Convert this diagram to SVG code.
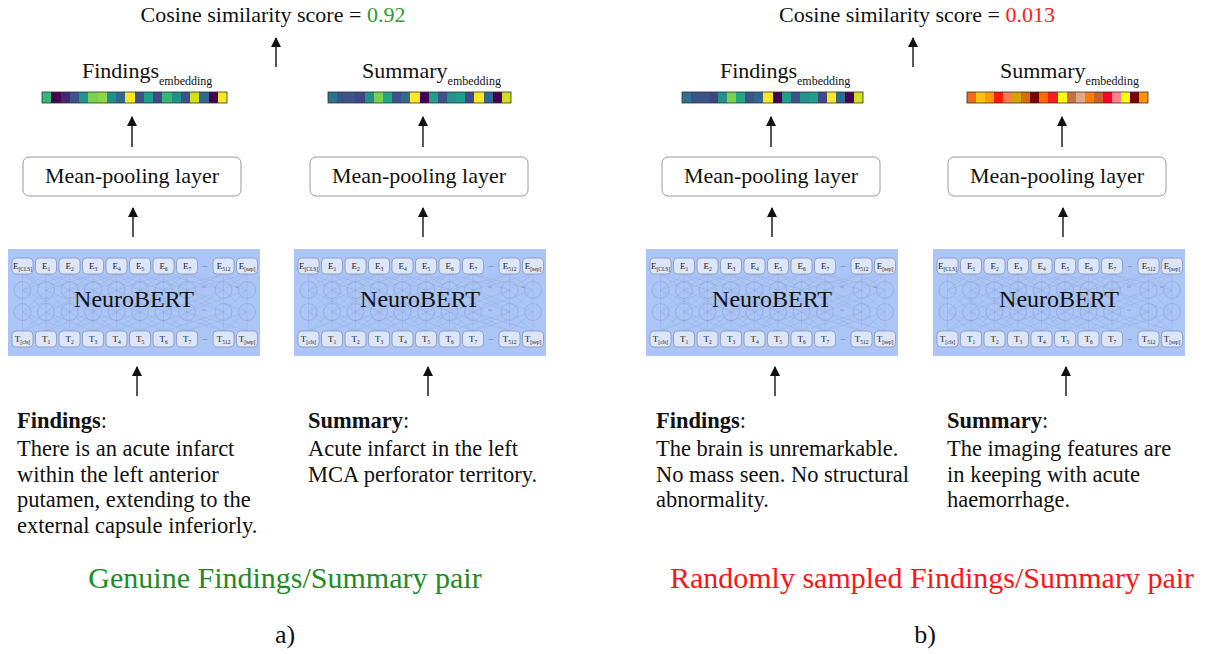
<svg xmlns="http://www.w3.org/2000/svg" xmlns:xlink="http://www.w3.org/1999/xlink" width="1211" height="654" viewBox="0 0 1211 654">
<style>
text{font-family:"Liberation Serif","Times New Roman",serif;fill:#111}
.title{font-size:22px;text-anchor:middle}
.emb{font-size:22px}
.embs{font-size:12px}
.pool{fill:#fff;stroke:#9a9a9a;stroke-width:1}
.pooltxt{font-size:22px;text-anchor:middle}
.bert{fill:#abc5f6}
.tokr{fill:#dde5f8;stroke:#8796ba;stroke-width:0.8}
.tk{font-size:9px;text-anchor:middle;fill:#222}
.sb{font-size:5.5px}
.dash{font-size:9px;text-anchor:middle;fill:#666}
.nb{font-size:24px;text-anchor:middle;fill:#111}
.net{fill:none;stroke:#8aa2d4;stroke-width:0.6;stroke-opacity:0.5}
.circ{fill:none;stroke:#93aadb;stroke-width:0.8}
.para{font-size:22.5px}
.cap{font-size:30px;text-anchor:middle}
.lab{font-size:26px;text-anchor:middle}
.arrow{stroke:#222;stroke-width:1.5;fill:none;marker-end:url(#ah)}
.bar{fill:none;stroke:#333;stroke-width:0.8}
</style>
<defs>
<marker id="ah" viewBox="0 0 10 10" refX="9" refY="5" markerWidth="10" markerHeight="11" markerUnits="userSpaceOnUse" orient="auto">
<path d="M0,0 L10,5 L0,10 z" fill="#111"/>
</marker>
<path id="band" d="M14.5 0L38 1M38 0L61.5 1M61.5 0L85 1M85 0L108.5 1M108.5 0L132 1M132 0L155.5 1M155.5 0L179 1M179 0L215.5 1M215.5 0L239 1M38 0L14.5 1M61.5 0L38 1M85 0L61.5 1M108.5 0L85 1M132 0L108.5 1M155.5 0L132 1M179 0L155.5 1M215.5 0L179 1M239 0L215.5 1M14.5 0L61.5 1M38 0L85 1M61.5 0L108.5 1M85 0L132 1M108.5 0L155.5 1M132 0L179 1M155.5 0L215.5 1M179 0L239 1M61.5 0L14.5 1M85 0L38 1M108.5 0L61.5 1M132 0L85 1M155.5 0L108.5 1M179 0L132 1M215.5 0L155.5 1M239 0L179 1M14.5 0V1M38 0V1M61.5 0V1M85 0V1M108.5 0V1M132 0V1M155.5 0V1M179 0V1M215.5 0V1M239 0V1" vector-effect="non-scaling-stroke"/>
<g id="net">
<g class="net">
<use href="#band" transform="translate(0,25) scale(1,16)"/>
<use href="#band" transform="translate(0,41) scale(1,22)"/>
<use href="#band" transform="translate(0,63) scale(1,19)"/>
</g>
<g class="circ">
<circle cx="14.5" cy="41" r="8.5"/><circle cx="38" cy="41" r="8.5"/><circle cx="61.5" cy="41" r="8.5"/><circle cx="85" cy="41" r="8.5"/><circle cx="108.5" cy="41" r="8.5"/><circle cx="132" cy="41" r="8.5"/><circle cx="155.5" cy="41" r="8.5"/><circle cx="179" cy="41" r="8.5"/><circle cx="215.5" cy="41" r="8.5"/><circle cx="239" cy="41" r="8.5"/>
<circle cx="14.5" cy="63" r="8.5"/><circle cx="38" cy="63" r="8.5"/><circle cx="61.5" cy="63" r="8.5"/><circle cx="85" cy="63" r="8.5"/><circle cx="108.5" cy="63" r="8.5"/><circle cx="132" cy="63" r="8.5"/><circle cx="155.5" cy="63" r="8.5"/><circle cx="179" cy="63" r="8.5"/><circle cx="215.5" cy="63" r="8.5"/><circle cx="239" cy="63" r="8.5"/>
</g>
<path d="M194 38h4M227 38h4M194 61h4" stroke="#7a8fbf" stroke-width="0.8"/>
</g>
<g id="tokrow">
<rect class="tokr" x="4" y="0" width="21" height="16" rx="4"/><rect class="tokr" x="27.5" y="0" width="21" height="16" rx="4"/><rect class="tokr" x="51" y="0" width="21" height="16" rx="4"/><rect class="tokr" x="74.5" y="0" width="21" height="16" rx="4"/><rect class="tokr" x="98" y="0" width="21" height="16" rx="4"/><rect class="tokr" x="121.5" y="0" width="21" height="16" rx="4"/><rect class="tokr" x="145" y="0" width="21" height="16" rx="4"/><rect class="tokr" x="168.5" y="0" width="21" height="16" rx="4"/><rect class="tokr" x="205" y="0" width="21" height="16" rx="4"/><rect class="tokr" x="228.5" y="0" width="21" height="16" rx="4"/>
</g>
</defs>
<rect width="1211" height="654" fill="#fff"/>

<g id="title-a"><text class="title" x="273" y="22">Cosine similarity score = <tspan fill="#2a9d2a">0.92</tspan></text></g>
<g id="title-b"><text class="title" x="917" y="22">Cosine similarity score = <tspan fill="#ff1a1a">0.013</tspan></text></g>

<g id="emb-af">
<text class="emb" x="82" y="78">Findings<tspan class="embs" dy="7">embedding</tspan></text>
<g shape-rendering="crispEdges">
<rect x="42" y="92" width="9.6" height="11" fill="#35b779"/><rect x="51.25" y="92" width="9.6" height="11" fill="#440154"/><rect x="60.5" y="92" width="9.6" height="11" fill="#482475"/><rect x="69.75" y="92" width="9.6" height="11" fill="#3b528b"/><rect x="79" y="92" width="9.6" height="11" fill="#21918c"/><rect x="88.25" y="92" width="9.6" height="11" fill="#7ad151"/><rect x="97.5" y="92" width="9.6" height="11" fill="#8fd744"/><rect x="106.75" y="92" width="9.6" height="11" fill="#21918c"/><rect x="116" y="92" width="9.6" height="11" fill="#31688e"/><rect x="125.25" y="92" width="9.6" height="11" fill="#fde725"/><rect x="134.5" y="92" width="9.6" height="11" fill="#3b528b"/><rect x="143.75" y="92" width="9.6" height="11" fill="#1f9e89"/><rect x="153" y="92" width="9.6" height="11" fill="#3e4989"/><rect x="162.25" y="92" width="9.6" height="11" fill="#35b779"/><rect x="171.5" y="92" width="9.6" height="11" fill="#21918c"/><rect x="180.75" y="92" width="9.6" height="11" fill="#3b528b"/><rect x="190" y="92" width="9.6" height="11" fill="#d0e11c"/><rect x="199.25" y="92" width="9.6" height="11" fill="#31688e"/><rect x="208.5" y="92" width="9.6" height="11" fill="#440154"/><rect x="217.75" y="92" width="9.25" height="11" fill="#fde725"/>
</g>
<rect class="bar" x="42" y="92" width="185" height="11"/>
</g>

<g id="emb-as">
<text class="emb" x="362" y="78">Summary<tspan class="embs" dy="7">embedding</tspan></text>
<g shape-rendering="crispEdges">
<rect x="328" y="92" width="9.5" height="11" fill="#2c728e"/><rect x="337.15" y="92" width="9.5" height="11" fill="#3b528b"/><rect x="346.3" y="92" width="9.5" height="11" fill="#3b528b"/><rect x="355.45" y="92" width="9.5" height="11" fill="#414487"/><rect x="364.6" y="92" width="9.5" height="11" fill="#21918c"/><rect x="373.75" y="92" width="9.5" height="11" fill="#7ad151"/><rect x="382.9" y="92" width="9.5" height="11" fill="#22a884"/><rect x="392.05" y="92" width="9.5" height="11" fill="#3b528b"/><rect x="401.2" y="92" width="9.5" height="11" fill="#31688e"/><rect x="410.35" y="92" width="9.5" height="11" fill="#fde725"/><rect x="419.5" y="92" width="9.5" height="11" fill="#440154"/><rect x="428.65" y="92" width="9.5" height="11" fill="#1f9e89"/><rect x="437.8" y="92" width="9.5" height="11" fill="#3b528b"/><rect x="446.95" y="92" width="9.5" height="11" fill="#21918c"/><rect x="456.1" y="92" width="9.5" height="11" fill="#1f9e89"/><rect x="465.25" y="92" width="9.5" height="11" fill="#3e4989"/><rect x="474.4" y="92" width="9.5" height="11" fill="#fde725"/><rect x="483.55" y="92" width="9.5" height="11" fill="#31688e"/><rect x="492.7" y="92" width="9.5" height="11" fill="#440154"/><rect x="501.85" y="92" width="9.15" height="11" fill="#d0e11c"/>
</g>
<rect class="bar" x="328" y="92" width="183" height="11"/>
</g>

<g id="emb-bf">
<text class="emb" x="720" y="78">Findings<tspan class="embs" dy="7">embedding</tspan></text>
<g shape-rendering="crispEdges">
<rect x="682" y="92" width="9.4" height="11" fill="#2c728e"/><rect x="691.05" y="92" width="9.4" height="11" fill="#3b528b"/><rect x="700.1" y="92" width="9.4" height="11" fill="#3b528b"/><rect x="709.15" y="92" width="9.4" height="11" fill="#414487"/><rect x="718.2" y="92" width="9.4" height="11" fill="#21918c"/><rect x="727.25" y="92" width="9.4" height="11" fill="#7ad151"/><rect x="736.3" y="92" width="9.4" height="11" fill="#22a884"/><rect x="745.35" y="92" width="9.4" height="11" fill="#3b528b"/><rect x="754.4" y="92" width="9.4" height="11" fill="#31688e"/><rect x="763.45" y="92" width="9.4" height="11" fill="#fde725"/><rect x="772.5" y="92" width="9.4" height="11" fill="#440154"/><rect x="781.55" y="92" width="9.4" height="11" fill="#1f9e89"/><rect x="790.6" y="92" width="9.4" height="11" fill="#3b528b"/><rect x="799.65" y="92" width="9.4" height="11" fill="#21918c"/><rect x="808.7" y="92" width="9.4" height="11" fill="#1f9e89"/><rect x="817.75" y="92" width="9.4" height="11" fill="#3e4989"/><rect x="826.8" y="92" width="9.4" height="11" fill="#fde725"/><rect x="835.85" y="92" width="9.4" height="11" fill="#31688e"/><rect x="844.9" y="92" width="9.4" height="11" fill="#440154"/><rect x="853.95" y="92" width="9.05" height="11" fill="#d0e11c"/>
</g>
<rect class="bar" x="682" y="92" width="181" height="11"/>
</g>

<g id="emb-bs">
<text class="emb" x="1000" y="78">Summary<tspan class="embs" dy="7">embedding</tspan></text>
<g shape-rendering="crispEdges">
<rect x="967" y="92" width="9.4" height="11" fill="#f06a1a"/><rect x="976.05" y="92" width="9.4" height="11" fill="#ffc20a"/><rect x="985.1" y="92" width="9.4" height="11" fill="#ff9a00"/><rect x="994.15" y="92" width="9.4" height="11" fill="#ff1a00"/><rect x="1003.2" y="92" width="9.4" height="11" fill="#ff7a50"/><rect x="1012.25" y="92" width="9.4" height="11" fill="#d6a400"/><rect x="1021.3" y="92" width="9.4" height="11" fill="#d27000"/><rect x="1030.35" y="92" width="9.4" height="11" fill="#7a0000"/><rect x="1039.4" y="92" width="9.4" height="11" fill="#ff6a00"/><rect x="1048.45" y="92" width="9.4" height="11" fill="#ff1a1a"/><rect x="1057.5" y="92" width="9.4" height="11" fill="#ffff10"/><rect x="1066.55" y="92" width="9.4" height="11" fill="#c87040"/><rect x="1075.6" y="92" width="9.4" height="11" fill="#e0a888"/><rect x="1084.65" y="92" width="9.4" height="11" fill="#ff7a00"/><rect x="1093.7" y="92" width="9.4" height="11" fill="#c8602a"/><rect x="1102.75" y="92" width="9.4" height="11" fill="#ff0028"/><rect x="1111.8" y="92" width="9.4" height="11" fill="#ff8088"/><rect x="1120.85" y="92" width="9.4" height="11" fill="#ffff00"/><rect x="1129.9" y="92" width="9.4" height="11" fill="#7a0000"/><rect x="1138.95" y="92" width="9.05" height="11" fill="#ff9400"/>
</g>
<rect class="bar" x="967" y="92" width="181" height="11"/>
</g>

<g id="pool-af"><rect class="pool" x="23" y="157" width="218" height="39" rx="6"/><text class="pooltxt" x="132" y="183">Mean-pooling layer</text></g>
<g id="pool-as"><rect class="pool" x="310" y="157" width="218" height="39" rx="6"/><text class="pooltxt" x="419" y="183">Mean-pooling layer</text></g>
<g id="pool-bf"><rect class="pool" x="662" y="157" width="218" height="39" rx="6"/><text class="pooltxt" x="771" y="183">Mean-pooling layer</text></g>
<g id="pool-bs"><rect class="pool" x="948" y="157" width="218" height="39" rx="6"/><text class="pooltxt" x="1057" y="183">Mean-pooling layer</text></g>

<g id="bert-af" transform="translate(8,249)">
<rect class="bert" width="252" height="107"/>
<use href="#net"/>
<use href="#tokrow" y="9"/>
<use href="#tokrow" y="82"/>
<text class="tk" x="14.5" y="20">E<tspan class="sb" dy="2">[CLS]</tspan></text><text class="tk" x="38" y="20">E<tspan class="sb" dy="2">1</tspan></text><text class="tk" x="61.5" y="20">E<tspan class="sb" dy="2">2</tspan></text><text class="tk" x="85" y="20">E<tspan class="sb" dy="2">3</tspan></text><text class="tk" x="108.5" y="20">E<tspan class="sb" dy="2">4</tspan></text><text class="tk" x="132" y="20">E<tspan class="sb" dy="2">5</tspan></text><text class="tk" x="155.5" y="20">E<tspan class="sb" dy="2">6</tspan></text><text class="tk" x="179" y="20">E<tspan class="sb" dy="2">7</tspan></text><text class="dash" x="197" y="19">–</text><text class="tk" x="215.5" y="20">E<tspan class="sb" dy="2">512</tspan></text><text class="tk" x="239" y="20">E<tspan class="sb" dy="2">[sep]</tspan></text>
<text class="tk" x="14.5" y="93">T<tspan class="sb" dy="2">[cls]</tspan></text><text class="tk" x="38" y="93">T<tspan class="sb" dy="2">1</tspan></text><text class="tk" x="61.5" y="93">T<tspan class="sb" dy="2">2</tspan></text><text class="tk" x="85" y="93">T<tspan class="sb" dy="2">3</tspan></text><text class="tk" x="108.5" y="93">T<tspan class="sb" dy="2">4</tspan></text><text class="tk" x="132" y="93">T<tspan class="sb" dy="2">5</tspan></text><text class="tk" x="155.5" y="93">T<tspan class="sb" dy="2">6</tspan></text><text class="tk" x="179" y="93">T<tspan class="sb" dy="2">7</tspan></text><text class="dash" x="197" y="92">–</text><text class="tk" x="215.5" y="93">T<tspan class="sb" dy="2">512</tspan></text><text class="tk" x="239" y="93">T<tspan class="sb" dy="2">[sep]</tspan></text>
<text class="nb" x="126" y="58">NeuroBERT</text>
</g>

<g id="bert-as" transform="translate(294,249)">
<rect class="bert" width="252" height="107"/>
<use href="#net"/>
<use href="#tokrow" y="9"/>
<use href="#tokrow" y="82"/>
<text class="tk" x="14.5" y="20">E<tspan class="sb" dy="2">[CLS]</tspan></text><text class="tk" x="38" y="20">E<tspan class="sb" dy="2">1</tspan></text><text class="tk" x="61.5" y="20">E<tspan class="sb" dy="2">2</tspan></text><text class="tk" x="85" y="20">E<tspan class="sb" dy="2">3</tspan></text><text class="tk" x="108.5" y="20">E<tspan class="sb" dy="2">4</tspan></text><text class="tk" x="132" y="20">E<tspan class="sb" dy="2">5</tspan></text><text class="tk" x="155.5" y="20">E<tspan class="sb" dy="2">6</tspan></text><text class="tk" x="179" y="20">E<tspan class="sb" dy="2">7</tspan></text><text class="dash" x="197" y="19">–</text><text class="tk" x="215.5" y="20">E<tspan class="sb" dy="2">512</tspan></text><text class="tk" x="239" y="20">E<tspan class="sb" dy="2">[sep]</tspan></text>
<text class="tk" x="14.5" y="93">T<tspan class="sb" dy="2">[cls]</tspan></text><text class="tk" x="38" y="93">T<tspan class="sb" dy="2">1</tspan></text><text class="tk" x="61.5" y="93">T<tspan class="sb" dy="2">2</tspan></text><text class="tk" x="85" y="93">T<tspan class="sb" dy="2">3</tspan></text><text class="tk" x="108.5" y="93">T<tspan class="sb" dy="2">4</tspan></text><text class="tk" x="132" y="93">T<tspan class="sb" dy="2">5</tspan></text><text class="tk" x="155.5" y="93">T<tspan class="sb" dy="2">6</tspan></text><text class="tk" x="179" y="93">T<tspan class="sb" dy="2">7</tspan></text><text class="dash" x="197" y="92">–</text><text class="tk" x="215.5" y="93">T<tspan class="sb" dy="2">512</tspan></text><text class="tk" x="239" y="93">T<tspan class="sb" dy="2">[sep]</tspan></text>
<text class="nb" x="126" y="58">NeuroBERT</text>
</g>

<g id="bert-bf" transform="translate(646,249)">
<rect class="bert" width="252" height="107"/>
<use href="#net"/>
<use href="#tokrow" y="9"/>
<use href="#tokrow" y="82"/>
<text class="tk" x="14.5" y="20">E<tspan class="sb" dy="2">[CLS]</tspan></text><text class="tk" x="38" y="20">E<tspan class="sb" dy="2">1</tspan></text><text class="tk" x="61.5" y="20">E<tspan class="sb" dy="2">2</tspan></text><text class="tk" x="85" y="20">E<tspan class="sb" dy="2">3</tspan></text><text class="tk" x="108.5" y="20">E<tspan class="sb" dy="2">4</tspan></text><text class="tk" x="132" y="20">E<tspan class="sb" dy="2">5</tspan></text><text class="tk" x="155.5" y="20">E<tspan class="sb" dy="2">6</tspan></text><text class="tk" x="179" y="20">E<tspan class="sb" dy="2">7</tspan></text><text class="dash" x="197" y="19">–</text><text class="tk" x="215.5" y="20">E<tspan class="sb" dy="2">512</tspan></text><text class="tk" x="239" y="20">E<tspan class="sb" dy="2">[sep]</tspan></text>
<text class="tk" x="14.5" y="93">T<tspan class="sb" dy="2">[cls]</tspan></text><text class="tk" x="38" y="93">T<tspan class="sb" dy="2">1</tspan></text><text class="tk" x="61.5" y="93">T<tspan class="sb" dy="2">2</tspan></text><text class="tk" x="85" y="93">T<tspan class="sb" dy="2">3</tspan></text><text class="tk" x="108.5" y="93">T<tspan class="sb" dy="2">4</tspan></text><text class="tk" x="132" y="93">T<tspan class="sb" dy="2">5</tspan></text><text class="tk" x="155.5" y="93">T<tspan class="sb" dy="2">6</tspan></text><text class="tk" x="179" y="93">T<tspan class="sb" dy="2">7</tspan></text><text class="dash" x="197" y="92">–</text><text class="tk" x="215.5" y="93">T<tspan class="sb" dy="2">512</tspan></text><text class="tk" x="239" y="93">T<tspan class="sb" dy="2">[sep]</tspan></text>
<text class="nb" x="126" y="58">NeuroBERT</text>
</g>

<g id="bert-bs" transform="translate(933,249)">
<rect class="bert" width="252" height="107"/>
<use href="#net"/>
<use href="#tokrow" y="9"/>
<use href="#tokrow" y="82"/>
<text class="tk" x="14.5" y="20">E<tspan class="sb" dy="2">[CLS]</tspan></text><text class="tk" x="38" y="20">E<tspan class="sb" dy="2">1</tspan></text><text class="tk" x="61.5" y="20">E<tspan class="sb" dy="2">2</tspan></text><text class="tk" x="85" y="20">E<tspan class="sb" dy="2">3</tspan></text><text class="tk" x="108.5" y="20">E<tspan class="sb" dy="2">4</tspan></text><text class="tk" x="132" y="20">E<tspan class="sb" dy="2">5</tspan></text><text class="tk" x="155.5" y="20">E<tspan class="sb" dy="2">6</tspan></text><text class="tk" x="179" y="20">E<tspan class="sb" dy="2">7</tspan></text><text class="dash" x="197" y="19">–</text><text class="tk" x="215.5" y="20">E<tspan class="sb" dy="2">512</tspan></text><text class="tk" x="239" y="20">E<tspan class="sb" dy="2">[sep]</tspan></text>
<text class="tk" x="14.5" y="93">T<tspan class="sb" dy="2">[cls]</tspan></text><text class="tk" x="38" y="93">T<tspan class="sb" dy="2">1</tspan></text><text class="tk" x="61.5" y="93">T<tspan class="sb" dy="2">2</tspan></text><text class="tk" x="85" y="93">T<tspan class="sb" dy="2">3</tspan></text><text class="tk" x="108.5" y="93">T<tspan class="sb" dy="2">4</tspan></text><text class="tk" x="132" y="93">T<tspan class="sb" dy="2">5</tspan></text><text class="tk" x="155.5" y="93">T<tspan class="sb" dy="2">6</tspan></text><text class="tk" x="179" y="93">T<tspan class="sb" dy="2">7</tspan></text><text class="dash" x="197" y="92">–</text><text class="tk" x="215.5" y="93">T<tspan class="sb" dy="2">512</tspan></text><text class="tk" x="239" y="93">T<tspan class="sb" dy="2">[sep]</tspan></text>
<text class="nb" x="126" y="58">NeuroBERT</text>
</g>

<g id="text-af">
<text class="para" x="17" y="428"><tspan font-weight="bold">Findings</tspan>:</text>
<text class="para" x="17" y="456">There is an acute infarct</text>
<text class="para" x="17" y="482">within the left anterior</text>
<text class="para" x="17" y="507">putamen, extending to the</text>
<text class="para" x="17" y="533">external capsule inferiorly.</text>
</g>
<g id="text-as">
<text class="para" x="308" y="428"><tspan font-weight="bold">Summary</tspan>:</text>
<text class="para" x="308" y="456">Acute infarct in the left</text>
<text class="para" x="308" y="482">MCA perforator territory.</text>
</g>
<g id="text-bf">
<text class="para" x="656" y="428"><tspan font-weight="bold">Findings</tspan>:</text>
<text class="para" x="656" y="456">The brain is unremarkable.</text>
<text class="para" x="656" y="482">No mass seen. No structural</text>
<text class="para" x="656" y="507">abnormality.</text>
</g>
<g id="text-bs">
<text class="para" x="947" y="428"><tspan font-weight="bold">Summary</tspan>:</text>
<text class="para" x="947" y="456">The imaging features are</text>
<text class="para" x="947" y="482">in keeping with acute</text>
<text class="para" x="947" y="507">haemorrhage.</text>
</g>

<g id="caption-a"><text class="cap" x="285" y="588" style="fill:#1e8c1e">Genuine Findings/Summary pair</text></g>
<g id="caption-b"><text class="cap" x="932" y="588" style="fill:#ff1414">Randomly sampled Findings/Summary pair</text></g>
<g id="label-a"><text class="lab" x="285" y="643">a)</text></g>
<g id="label-b"><text class="lab" x="925" y="643">b)</text></g>

<g id="connectors">
<line class="arrow" x1="276" y1="67" x2="276" y2="38"/>
<line class="arrow" x1="913" y1="67" x2="913" y2="38"/>
<line class="arrow" x1="132" y1="147" x2="132" y2="117"/>
<line class="arrow" x1="133" y1="237" x2="133" y2="208"/>
<line class="arrow" x1="137" y1="396" x2="137" y2="367"/>
<line class="arrow" x1="423" y1="147" x2="423" y2="117"/>
<line class="arrow" x1="423" y1="237" x2="423" y2="208"/>
<line class="arrow" x1="428" y1="396" x2="428" y2="367"/>
<line class="arrow" x1="771" y1="147" x2="771" y2="117"/>
<line class="arrow" x1="772" y1="237" x2="772" y2="208"/>
<line class="arrow" x1="775" y1="396" x2="775" y2="367"/>
<line class="arrow" x1="1062" y1="147" x2="1062" y2="117"/>
<line class="arrow" x1="1063" y1="237" x2="1063" y2="208"/>
<line class="arrow" x1="1066" y1="396" x2="1066" y2="367"/>
</g>
</svg>
